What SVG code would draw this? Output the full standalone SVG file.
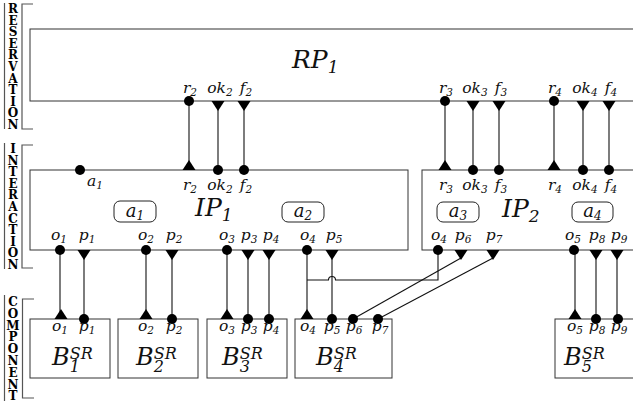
<svg xmlns="http://www.w3.org/2000/svg" width="633" height="408" viewBox="0 0 633 408">
<style>
.box{fill:#fff;stroke:#333;stroke-width:1}
.ab{fill:#fff;stroke:#222;stroke-width:1}
.ln{stroke:#111;stroke-width:1.1;fill:none}
.br{stroke:#555;stroke-width:1.2;fill:none}
.m{font-family:'DejaVu Serif','Liberation Serif',serif;font-style:italic;fill:#111}
.lb{font-size:15.5px}
.s{font-size:10.5px}
.big{font-size:25px}
.bs{font-size:18px}
.bl{font-size:24px}
.vt{font-family:'DejaVu Serif','Liberation Serif',serif;font-weight:bold;font-size:12px;fill:#000;text-anchor:middle}
</style>
<defs>
<circle id="dot" r="5" fill="#000"/>
<polygon id="tdn" points="-6.5,0 6.5,0 0,10" fill="#000"/>
<polygon id="tup" points="-6.5,0 6.5,0 0,-10" fill="#000"/>
</defs>

<g id="layers">
<line class="br" x1="4.5" y1="3" x2="4.5" y2="129"/>
<polyline class="br" points="33,4 22,4 22,129 33,129"/>
<text class="vt"><tspan x="13" y="13">R</tspan><tspan x="13" y="24.6">E</tspan><tspan x="13" y="36.2">S</tspan><tspan x="13" y="47.8">E</tspan><tspan x="13" y="59.4">R</tspan><tspan x="13" y="71">V</tspan><tspan x="13" y="82.6">A</tspan><tspan x="13" y="94.2">T</tspan><tspan x="13" y="105.8">I</tspan><tspan x="13" y="117.4">O</tspan><tspan x="13" y="129">N</tspan></text>
<line class="br" x1="4.5" y1="143" x2="4.5" y2="269"/>
<polyline class="br" points="33,145 22,145 22,268 33,268"/>
<text class="vt"><tspan x="13" y="153">I</tspan><tspan x="13" y="164.6">N</tspan><tspan x="13" y="176.2">T</tspan><tspan x="13" y="187.8">E</tspan><tspan x="13" y="199.4">R</tspan><tspan x="13" y="211">A</tspan><tspan x="13" y="222.6">C</tspan><tspan x="13" y="234.2">T</tspan><tspan x="13" y="245.8">I</tspan><tspan x="13" y="257.4">O</tspan><tspan x="13" y="269">N</tspan></text>
<line class="br" x1="4.5" y1="295" x2="4.5" y2="401"/>
<polyline class="br" points="34,299 22.5,299 22.5,398 34,398"/>
<text class="vt"><tspan x="13" y="306">C</tspan><tspan x="13" y="317.8">O</tspan><tspan x="13" y="329.6">M</tspan><tspan x="13" y="341.4">P</tspan><tspan x="13" y="353.2">O</tspan><tspan x="13" y="365">N</tspan><tspan x="13" y="376.8">E</tspan><tspan x="13" y="388.6">N</tspan><tspan x="13" y="400.4">T</tspan></text>
</g>

<g id="RP1">
<rect class="box" x="30" y="29" width="610" height="72"/>
<text class="m big" x="292" y="68">RP<tspan style="font-size:17px" dy="5">1</tspan></text>
</g>

<g id="IP1">
<rect class="box" x="30" y="170" width="378" height="80"/>
<text class="m big" x="195" y="216">IP<tspan style="font-size:17px" dy="5">1</tspan></text>
<rect class="ab" x="114" y="201" width="42" height="21" rx="6"/>
<text class="m bs" x="135" y="216.5" text-anchor="middle">a<tspan style="font-size:12px" dy="3">1</tspan></text>
<rect class="ab" x="282" y="202" width="42" height="20" rx="6"/>
<text class="m bs" x="303" y="216.5" text-anchor="middle">a<tspan style="font-size:12px" dy="3">2</tspan></text>
</g>

<g id="IP2">
<rect class="box" x="422" y="170" width="220" height="80"/>
<text class="m big" x="502" y="217">IP<tspan style="font-size:17px" dy="5">2</tspan></text>
<rect class="ab" x="437" y="202" width="42" height="20" rx="6"/>
<text class="m bs" x="458" y="216.5" text-anchor="middle">a<tspan style="font-size:12px" dy="3">3</tspan></text>
<rect class="ab" x="572" y="202" width="41" height="20" rx="6"/>
<text class="m bs" x="592.5" y="216.5" text-anchor="middle">a<tspan style="font-size:12px" dy="3">4</tspan></text>
</g>

<g id="B1"><rect class="box" x="30" y="319" width="80" height="59"/>
<text class="m bl" x="52" y="365">B<tspan style="font-size:16px" dy="7">1</tspan><tspan style="font-size:16px" dx="-10" dy="-13">SR</tspan></text></g>
<g id="B2"><rect class="box" x="118" y="319" width="80" height="59"/>
<text class="m bl" x="136" y="365">B<tspan style="font-size:16px" dy="7">2</tspan><tspan style="font-size:16px" dx="-10" dy="-13">SR</tspan></text></g>
<g id="B3"><rect class="box" x="207" y="319" width="80" height="59"/>
<text class="m bl" x="222" y="365">B<tspan style="font-size:16px" dy="7">3</tspan><tspan style="font-size:16px" dx="-10" dy="-13">SR</tspan></text></g>
<g id="B4"><rect class="box" x="295" y="319" width="97" height="59"/>
<text class="m bl" x="316" y="365">B<tspan style="font-size:16px" dy="7">4</tspan><tspan style="font-size:16px" dx="-10" dy="-13">SR</tspan></text></g>
<g id="B5"><rect class="box" x="555" y="319" width="85" height="59"/>
<text class="m bl" x="564" y="365">B<tspan style="font-size:16px" dy="7">5</tspan><tspan style="font-size:16px" dx="-10" dy="-13">SR</tspan></text></g>

<g id="connectors">
<line class="ln" x1="189" y1="101" x2="189" y2="170"/>
<line class="ln" x1="218" y1="101" x2="218" y2="170"/>
<line class="ln" x1="244" y1="101" x2="244" y2="170"/>
<line class="ln" x1="445" y1="101" x2="445" y2="170"/>
<line class="ln" x1="473" y1="101" x2="473" y2="170"/>
<line class="ln" x1="499" y1="101" x2="499" y2="170"/>
<line class="ln" x1="554" y1="101" x2="554" y2="170"/>
<line class="ln" x1="583" y1="101" x2="583" y2="170"/>
<line class="ln" x1="609" y1="101" x2="609" y2="170"/>
<line class="ln" x1="60" y1="250" x2="60" y2="319"/>
<line class="ln" x1="84" y1="250" x2="84" y2="319"/>
<line class="ln" x1="146" y1="250" x2="146" y2="319"/>
<line class="ln" x1="172" y1="250" x2="172" y2="319"/>
<line class="ln" x1="227" y1="250" x2="227" y2="319"/>
<line class="ln" x1="248" y1="250" x2="248" y2="319"/>
<line class="ln" x1="269" y1="250" x2="269" y2="319"/>
<line class="ln" x1="307" y1="250" x2="307" y2="319"/>
<line class="ln" x1="332" y1="250" x2="332" y2="319"/>
<line class="ln" x1="575" y1="250" x2="575" y2="319"/>
<line class="ln" x1="596" y1="250" x2="596" y2="319"/>
<line class="ln" x1="617" y1="250" x2="617" y2="319"/>
<path class="ln" d="M438,250 V280 H335.5 A3.5,3.5 0 0 0 328.5,280 H307"/>
<line class="ln" x1="461" y1="258" x2="353" y2="319"/>
<line class="ln" x1="493" y1="258" x2="378" y2="319"/>
</g>

<g id="ports">
<use href="#dot" x="189" y="101"/><use href="#tdn" x="218" y="101"/><use href="#tdn" x="244" y="101"/>
<use href="#dot" x="445" y="101"/><use href="#tdn" x="473" y="101"/><use href="#tdn" x="499" y="101"/>
<use href="#dot" x="554" y="101"/><use href="#tdn" x="583" y="101"/><use href="#tdn" x="609" y="101"/>
<use href="#dot" x="80" y="170"/>
<use href="#tup" x="189" y="170"/><use href="#dot" x="218" y="170"/><use href="#dot" x="244" y="170"/>
<use href="#tup" x="445" y="170"/><use href="#dot" x="473" y="170"/><use href="#dot" x="499" y="170"/>
<use href="#tup" x="554" y="170"/><use href="#dot" x="583" y="170"/><use href="#dot" x="609" y="170"/>
<use href="#dot" x="60" y="250"/><use href="#tdn" x="84" y="250"/><use href="#dot" x="146" y="250"/><use href="#tdn" x="172" y="250"/>
<use href="#dot" x="227" y="250"/><use href="#tdn" x="248" y="250"/><use href="#tdn" x="269" y="250"/>
<use href="#dot" x="307" y="250"/><use href="#tdn" x="332" y="250"/>
<use href="#dot" x="438" y="250"/><use href="#tdn" x="461" y="250"/><use href="#tdn" x="493" y="250"/>
<use href="#dot" x="574" y="250"/><use href="#tdn" x="596" y="250"/><use href="#tdn" x="617" y="250"/>
<use href="#tup" x="61" y="319"/><use href="#dot" x="84" y="319"/>
<use href="#tup" x="146" y="319"/><use href="#dot" x="172" y="319"/>
<use href="#tup" x="227" y="319"/><use href="#dot" x="248" y="319"/><use href="#dot" x="269" y="319"/>
<use href="#tup" x="307" y="319"/><use href="#dot" x="332" y="319"/><use href="#dot" x="353" y="319"/><use href="#dot" x="378" y="319"/>
<use href="#tup" x="575" y="319"/><use href="#dot" x="596" y="319"/><use href="#dot" x="618" y="319"/>
</g>

<g id="port-labels" class="m lb" text-anchor="middle">
<text x="190" y="93">r<tspan class="s" dy="3">2</tspan></text>
<text x="220" y="93">ok<tspan class="s" dy="3">2</tspan></text>
<text x="246" y="93">f<tspan class="s" dy="3">2</tspan></text>
<text x="446" y="93">r<tspan class="s" dy="3">3</tspan></text>
<text x="475" y="93">ok<tspan class="s" dy="3">3</tspan></text>
<text x="501" y="93">f<tspan class="s" dy="3">3</tspan></text>
<text x="555" y="93">r<tspan class="s" dy="3">4</tspan></text>
<text x="585" y="93">ok<tspan class="s" dy="3">4</tspan></text>
<text x="611" y="93">f<tspan class="s" dy="3">4</tspan></text>
<text x="95" y="186">a<tspan class="s" dy="3">1</tspan></text>
<text x="190" y="190">r<tspan class="s" dy="3">2</tspan></text>
<text x="220" y="190">ok<tspan class="s" dy="3">2</tspan></text>
<text x="246" y="190">f<tspan class="s" dy="3">2</tspan></text>
<text x="446" y="190">r<tspan class="s" dy="3">3</tspan></text>
<text x="475" y="190">ok<tspan class="s" dy="3">3</tspan></text>
<text x="501" y="190">f<tspan class="s" dy="3">3</tspan></text>
<text x="555" y="190">r<tspan class="s" dy="3">4</tspan></text>
<text x="585" y="190">ok<tspan class="s" dy="3">4</tspan></text>
<text x="611" y="190">f<tspan class="s" dy="3">4</tspan></text>
<text x="59" y="240">o<tspan class="s" dy="3">1</tspan></text>
<text x="87" y="240">p<tspan class="s" dy="3">1</tspan></text>
<text x="146" y="240">o<tspan class="s" dy="3">2</tspan></text>
<text x="174" y="240">p<tspan class="s" dy="3">2</tspan></text>
<text x="227" y="240">o<tspan class="s" dy="3">3</tspan></text>
<text x="249" y="240">p<tspan class="s" dy="3">3</tspan></text>
<text x="271" y="240">p<tspan class="s" dy="3">4</tspan></text>
<text x="308" y="240">o<tspan class="s" dy="3">4</tspan></text>
<text x="334" y="240">p<tspan class="s" dy="3">5</tspan></text>
<text x="439" y="240">o<tspan class="s" dy="3">4</tspan></text>
<text x="463" y="240">p<tspan class="s" dy="3">6</tspan></text>
<text x="494" y="240">p<tspan class="s" dy="3">7</tspan></text>
<text x="573" y="240">o<tspan class="s" dy="3">5</tspan></text>
<text x="597" y="240">p<tspan class="s" dy="3">8</tspan></text>
<text x="619" y="240">p<tspan class="s" dy="3">9</tspan></text>
<text x="60" y="331">o<tspan class="s" dy="3">1</tspan></text>
<text x="87" y="331">p<tspan class="s" dy="3">1</tspan></text>
<text x="146" y="331">o<tspan class="s" dy="3">2</tspan></text>
<text x="174" y="331">p<tspan class="s" dy="3">2</tspan></text>
<text x="227" y="331">o<tspan class="s" dy="3">3</tspan></text>
<text x="249" y="331">p<tspan class="s" dy="3">3</tspan></text>
<text x="271" y="331">p<tspan class="s" dy="3">4</tspan></text>
<text x="308" y="331">o<tspan class="s" dy="3">4</tspan></text>
<text x="332" y="331">p<tspan class="s" dy="3">5</tspan></text>
<text x="354" y="331">p<tspan class="s" dy="3">6</tspan></text>
<text x="380" y="331">p<tspan class="s" dy="3">7</tspan></text>
<text x="575" y="331">o<tspan class="s" dy="3">5</tspan></text>
<text x="597" y="331">p<tspan class="s" dy="3">8</tspan></text>
<text x="619" y="331">p<tspan class="s" dy="3">9</tspan></text>
</g>
</svg>
